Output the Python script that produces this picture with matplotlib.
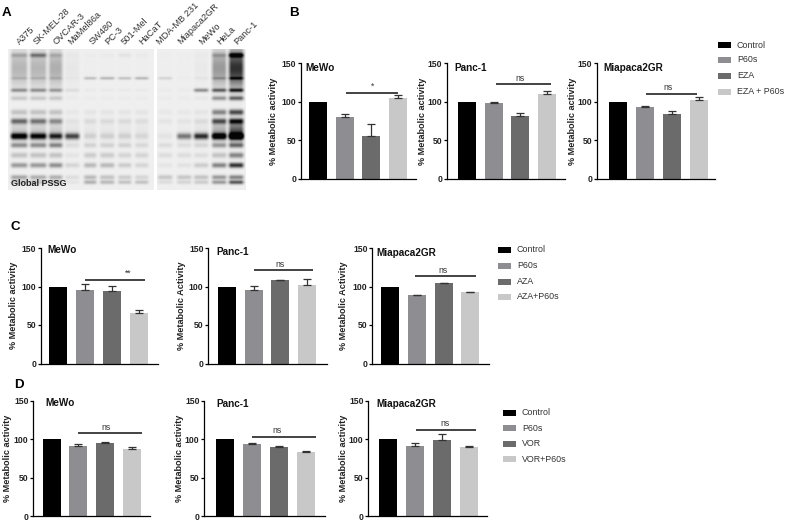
import numpy as np
import matplotlib
matplotlib.use("Agg")
import matplotlib.pyplot as plt
from matplotlib.patches import Rectangle

plt.rcParams["font.family"] = ["Liberation Sans", "DejaVu Sans"]

W, H = 789, 521
BAR_COLORS = ["#000000", "#8e8e92", "#6b6b6b", "#c8c8c8"]
TEXT = "#222222"

# panel A
lane_names = ["A375", "SK-MEL-28", "OVCAR-3", "MaMel86a", "SW480", "PC-3", "501-Mel", "HaCaT",
              "MDA-MB 231", "Miapaca2GR", "MeWo", "HeLa", "Panc-1"]
band_rows = [55, 68, 78, 90, 98, 112, 121, 131, 136, 145, 155, 165, 177, 182]
band_widths = [1.5, 13, 1.0, 1.3, 1.5, 2, 2, 6, 2.2, 1.8, 2, 1.8, 1.6, 1.4]
lane_bands = [
    [.30, .36, .20, .50, .25, .30, .70, .25, 1.2, .55, .30, .50, .45, .30],
    [.55, .36, .20, .50, .25, .30, .65, .25, 1.1, .55, .30, .50, .40, .30],
    [.25, .40, .20, .45, .25, .30, .55, .25, .95, .60, .30, .55, .40, .30],
    [.04, .08, .05, .14, .05, .08, .10, .10, .85, .15, .10, .20, .15, .10],
    [.03, .03, .32, .06, .05, .10, .16, .08, .20, .22, .25, .35, .35, .40],
    [.05, .03, .36, .06, .05, .10, .16, .08, .20, .22, .25, .35, .30, .35],
    [.10, .03, .30, .06, .05, .10, .16, .08, .20, .22, .20, .25, .25, .30],
    [.05, .03, .36, .06, .05, .10, .14, .08, .16, .18, .20, .20, .20, .30],
    [.02, .03, .20, .05, .05, .08, .10, .03, .10, .15, .15, .10, .28, .15],
    [.02, .03, .03, .05, .05, .08, .10, .05, .65, .15, .15, .12, .28, .20],
    [.04, .06, .08, .55, .08, .10, .15, .10, .95, .20, .15, .25, .30, .25],
    [.30, .50, .30, .70, .50, .60, .80, .40, 1.3, .50, .30, .60, .50, .50],
    [1.0, .95, .60, .90, .70, .85, 1.0, .80, 1.5, .70, .60, .95, .60, .80],
]

# panels B, C, D
cell_lines = ["MeWo", "Panc-1", "Miapaca2GR"]
b_values = [[100, 80, 56, 105], [100, 99, 82, 110], [100, 93, 85, 102]]
b_errors = [[0, 5, 15, 4], [0, 1.5, 4, 4], [0, 2, 3, 4]]
c_values = [[100, 95, 94.5, 65], [100, 95, 108, 102], [100, 88.5, 104.5, 93]]
c_errors = [[0, 8.5, 6, 5], [0, 5.5, 1, 7.5], [0, 0.5, 0.5, 0.5]]
d_values = [[100, 91, 95, 87], [100, 94, 90, 83], [100, 91, 99, 90]]
d_errors = [[0, 3, 1, 3], [0, 1, 0.7, 1.5], [0, 4, 8, 1]]
b_legend = ["Control", "P60s", "EZA", "EZA + P60s"]
c_legend = ["Control", "P60s", "AZA", "AZA+P60s"]
d_legend = ["Control", "P60s", "VOR", "VOR+P60s"]
y_ticks = [0, 50, 100, 150]


def draw_gel(over, lanes, bands, x0, x1, y0=49, y1=190):
    xs = np.arange(x0, x1, 0.5)
    ys = np.arange(y0, y1, 0.5)
    img = np.full((len(ys), len(xs)), 0.94)
    for (left, right), lane in zip(lanes, bands):
        prof = np.clip((xs - left + 1) / 4.0, 0, 1) * np.clip((right - xs + 1) / 4.0, 0, 1)
        for row, sig, val in zip(band_rows, band_widths, lane):
            img -= 0.8 * val ** 1.25 * np.outer(np.exp(-(ys - row) ** 2 / (2 * sig ** 2)), prof)
    over.imshow(np.clip(img, 0.02, 1), cmap="gray", vmin=0, vmax=1, extent=(x0, x1, y1, y0),
                aspect="auto", interpolation="bilinear")


def draw_bars(box, values, errors, title, title_pos, ylabel, ylabel_off, first, step, sig):
    left, top, right, bottom = box
    ax = fig.add_axes([left / W, 1 - bottom / H, (right - left) / W, (bottom - top) / H])
    xs = np.arange(1, 5)
    ax.bar(xs, values, width=18.0 / step, color=BAR_COLORS)
    ax.errorbar(xs[1:], values[1:], yerr=[np.zeros(3), errors[1:]], fmt="none", ecolor="#333333",
                elinewidth=0.9, capsize=2.8, capthick=0.9)
    ax.set_xlim(1 - (first - left) / step, 1 + (right - first) / step)
    ax.set_ylim(0, 150)
    ax.set_xticks([])
    ax.set_yticks(y_ticks)
    ax.spines["top"].set_visible(False)
    ax.spines["right"].set_visible(False)
    ax.spines["left"].set_linewidth(0.9)
    ax.spines["bottom"].set_linewidth(0.9)
    ax.tick_params(axis="y", length=2.2, width=0.9, pad=1, labelsize=6.2, labelcolor=TEXT)
    for lab in ax.get_yticklabels():
        lab.set_fontweight("bold")
    ax.set_ylabel(ylabel, fontsize=6.6, fontweight="bold", color=TEXT)
    ax.yaxis.set_label_coords(-(ylabel_off - 4.5) / (right - left), 0.5)
    over.text(title_pos[0], title_pos[1], title, fontsize=7.2, fontweight="bold", color="#111111", va="center")
    # significance line above the treated bars
    x0, x1, level, label, label_x = sig
    ax.plot([x0, x1], [level, level], color="#222222", lw=1.2, solid_capstyle="butt")
    ax.annotate(label, (label_x, level), xytext=(0, 1.5 if label != "ns" else 1.2), textcoords="offset points",
                ha="center", va="bottom", fontsize=6.2, color="#333333")


def draw_legend(labels, x, ys):
    for lab, col, y in zip(labels, BAR_COLORS, ys):
        over.add_patch(Rectangle((x, y - 3), 13, 6, facecolor=col, edgecolor="none"))
        over.text(x + 19, y, lab, fontsize=6.4, color="#333333", va="center")


fig = plt.figure(figsize=(W / 100, H / 100), dpi=100)
over = fig.add_axes([0, 0, 1, 1], zorder=5)
over.patch.set_alpha(0)

draw_gel(over, [(10, 28), (29, 47), (48, 63), (64, 80), (83, 97), (99, 115), (117, 132), (134, 149)],
         lane_bands[:8], 8, 154)
draw_gel(over, [(157, 173), (176, 192), (193, 209), (211, 227), (228, 244)], lane_bands[8:], 157, 246)
over.set_xlim(0, W)
over.set_ylim(H, 0)
over.axis("off")

lane_x = [21, 38, 58, 73, 94, 110, 126, 144, 161, 182, 204, 222, 239]
for name, x in zip(lane_names, lane_x):
    over.text(x, 46, name, rotation=45, rotation_mode="anchor", ha="left", va="bottom", fontsize=6.7, color="#333333")
over.text(11, 184, "Global PSSG", fontsize=6.5, fontweight="bold", color="#222222", va="center")

for letter, x, y in [("A", 2, 16), ("B", 289, 16.5), ("C", 11, 230), ("D", 14, 388)]:
    over.text(x, y, letter, fontsize=9.6, fontweight="bold", color="black", va="baseline")

act = "% Metabolic activity"
Act = "% Metabolic Activity"

draw_bars((300.7, 63.5, 416, 179), b_values[0], b_errors[0], cell_lines[0], (305.7, 67.7), act, 27, 318, 26.7,
          (2.04, 3.98, 111.7, "*", 3.05))
draw_bars((446.7, 63.5, 565, 179), b_values[1], b_errors[1], cell_lines[1], (454, 67.7), act, 24, 467, 26.7,
          (2.07, 4.15, 123, "ns", 2.98))
draw_bars((596.7, 63.5, 715, 179), b_values[2], b_errors[2], cell_lines[2], (603, 67.7), act, 24, 617.5, 27,
          (2.07, 3.96, 111, "ns", 2.87))
draw_legend(b_legend, 718, [45, 60, 76, 92])

draw_bars((40.5, 248, 157.5, 363.5), c_values[0], c_errors[0], cell_lines[0], (47, 250), act, 27, 58.2, 26.9,
          (1.99, 4.21, 108.4, "**", 3.6))
draw_bars((208, 248, 326.5, 363.5), c_values[1], c_errors[1], cell_lines[1], (216, 251.7), Act, 27, 226.6, 26.9,
          (2.03, 4.2, 121, "ns", 2.99))
draw_bars((372, 248, 489, 363.5), c_values[2], c_errors[2], cell_lines[2], (376, 252.7), Act, 28, 389.7, 26.9,
          (1.94, 4.2, 113, "ns", 2.98))
draw_legend(c_legend, 498, [250, 265.7, 281.7, 296.7])

draw_bars((33, 401, 150, 516), d_values[0], d_errors[0], cell_lines[0], (45.4, 403), act, 25.5, 51.5, 26.9,
          (2.0, 4.35, 108, "ns", 3.03))
draw_bars((204, 401, 325, 516), d_values[1], d_errors[1], cell_lines[1], (216, 403.7), act, 24, 225, 26.9,
          (2.0, 4.37, 103, "ns", 2.92))
draw_bars((368, 401, 487, 516), d_values[2], d_errors[2], cell_lines[2], (376, 403.7), act, 25, 388.4, 26.9,
          (2.03, 4.27, 112.5, "ns", 3.09))
draw_legend(d_legend, 503, [412.7, 428.3, 444, 459.3])

fig.savefig("out.png", dpi=100)
